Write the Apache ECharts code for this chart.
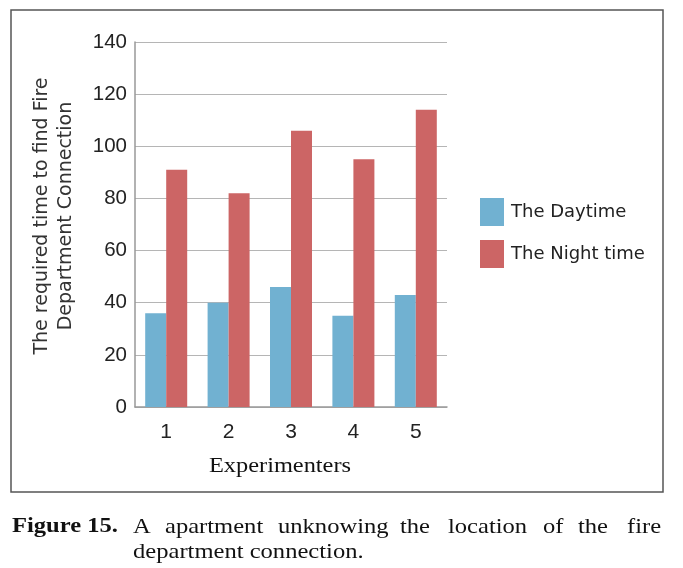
<!DOCTYPE html>
<html><head><meta charset="utf-8">
<script src="https://cdn.jsdelivr.net/npm/echarts@6/dist/echarts.min.js"></script>
<style>html,body{margin:0;padding:0;background:#fff}#c{width:683px;height:568px}</style>
</head><body><div id="c"></div>
<script>
const categories = ['1','2','3','4','5'];
const daytime = [36, 40, 46, 35, 43];
const nighttime = [91, 82, 106, 95, 114];
const seriesNames = ['The Daytime', 'The Night time'];
const yTicks = {min: 0, max: 140, interval: 20};
const yTitle = 'The required time to find Fire\nDepartment Connection';
const xTitle = 'Experimenters';
const captionWords = [
  ['Figure 15.', 12, 526, true], ['A', 133, 526], ['apartment', 165, 526], ['unknowing', 278, 526],
  ['the', 400, 526], ['location', 448, 526], ['of', 543, 526], ['the', 578, 526], ['fire', 627, 526],
  ['department connection.', 133, 551]
];
const chart = echarts.init(document.getElementById('c'), null, {renderer: 'canvas'});
const sans = 'Liberation Sans';
const serif = 'Liberation Serif';
chart.setOption({
  animation: false,
  grid: {left: 135, right: 236, top: 42, bottom: 161},
  legend: {
    orient: 'vertical', left: 475, top: 193, itemWidth: 24, itemHeight: 28, itemGap: 14,
    icon: 'rect',
    textStyle: {fontFamily: 'DejaVu Sans', fontSize: 18, color: '#222', padding: [0, 0, 0, 2]},
    data: seriesNames
  },
  xAxis: {
    type: 'category', data: categories,
    axisLine: {lineStyle: {color: '#999', width: 1.5}},
    axisTick: {show: false},
    axisLabel: {fontFamily: sans, fontSize: 21, color: '#222', margin: 15}
  },
  yAxis: {
    type: 'value', min: yTicks.min, max: yTicks.max, interval: yTicks.interval,
    axisLine: {show: true, lineStyle: {color: '#999', width: 1.5}},
    axisTick: {show: false},
    splitLine: {lineStyle: {color: '#b5b5b5', width: 1.2}},
    axisLabel: {fontFamily: sans, fontSize: 20.5, color: '#222', margin: 8}
  },
  series: [
    {name: seriesNames[0], type: 'bar', data: daytime, barWidth: 21, barGap: '0%', itemStyle: {color: '#71b1d1'}},
    {name: seriesNames[1], type: 'bar', data: nighttime, barWidth: 21, barGap: '0%', itemStyle: {color: '#cc6565'}}
  ],
  graphic: [
    {type: 'rect', shape: {x: 11, y: 10, width: 652, height: 482}, style: {fill: 'none', stroke: '#555', lineWidth: 1.5}, z: -1},
    {type: 'text', x: 54, y: 216, rotation: Math.PI / 2,
     style: {text: yTitle, fontFamily: 'DejaVu Sans', fontSize: 19, lineHeight: 24, fill: '#333', align: 'center', verticalAlign: 'middle'}},
    {type: 'text', x: 280, y: 466, scaleX: 1.16,
     style: {text: xTitle, fontFamily: serif, fontSize: 21, fill: '#111', align: 'center', verticalAlign: 'middle'}}
  ].concat(captionWords.map(w => ({
    type: 'text', x: w[1], y: w[2] + 1, scaleX: 1.17,
    style: {text: w[0], fontFamily: serif, fontSize: 21, fontWeight: w[3] ? 'bold' : 'normal', fill: '#111', verticalAlign: 'middle'}
  })))
});
</script></body></html>
